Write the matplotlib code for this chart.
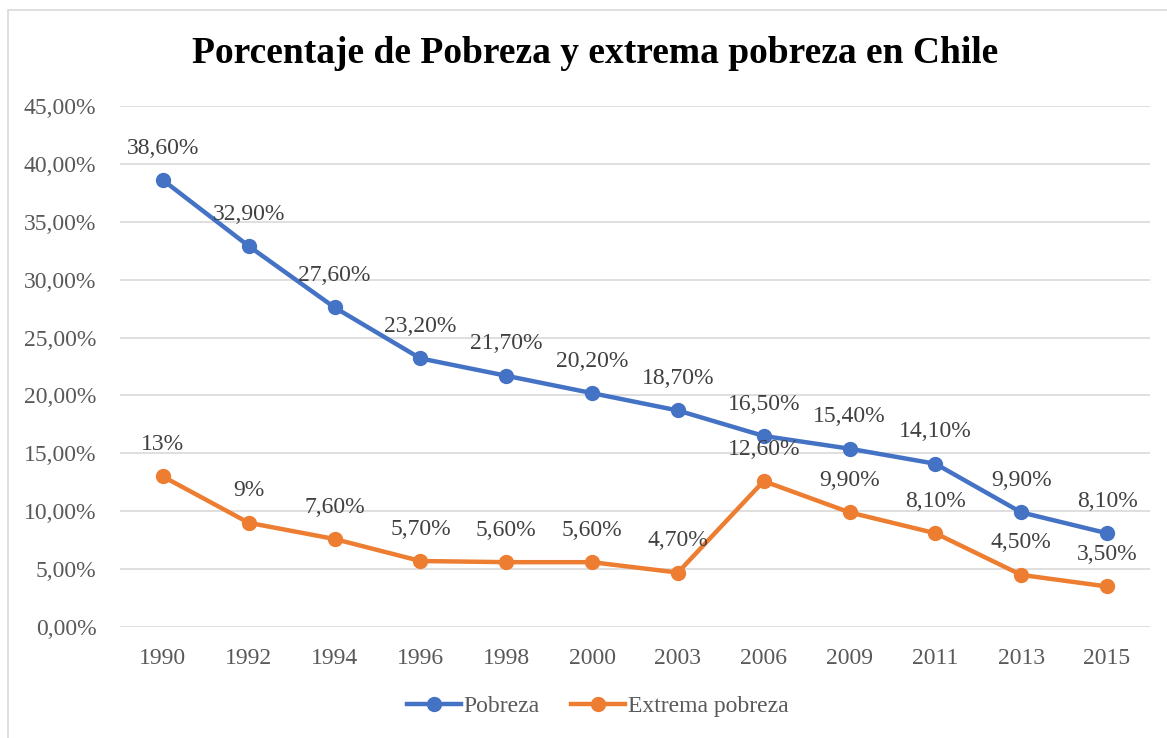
import matplotlib.pyplot as plt
from matplotlib.patches import Rectangle
from matplotlib.ticker import FuncFormatter

plt.rcParams['font.family'] = ['Liberation Serif', 'DejaVu Serif']

anios = ['1990', '1992', '1994', '1996', '1998', '2000', '2003', '2006', '2009', '2011', '2013', '2015']
pobreza = [38.6, 32.9, 27.6, 23.2, 21.7, 20.2, 18.7, 16.5, 15.4, 14.1, 9.9, 8.1]
extrema = [13, 9, 7.6, 5.7, 5.6, 5.6, 4.7, 12.6, 9.9, 8.1, 4.5, 3.5]

azul = '#4472C4'
naranja = '#ED7D31'
gris = '#595959'


def etiqueta(v):
    if float(v).is_integer():
        return f"{int(v)}%"
    return f"{v:.2f}%".replace('.', ',')


fig = plt.figure(figsize=(11.67, 7.38), dpi=100)
ax = fig.add_axes([0.1028, 0.1504, 0.8826, 0.706])

x = list(range(len(anios)))
ax.plot(x, pobreza, color=azul, lw=3.2, marker='o', ms=10, label='Pobreza', zorder=3)
ax.plot(x, extrema, color=naranja, lw=3.2, marker='o', ms=10, label='Extrema pobreza', zorder=3)

for serie in (pobreza, extrema):
    for i, v in zip(x, serie):
        ax.annotate(etiqueta(v), (i, v), xytext=(0, 23), textcoords='offset points',
                    ha='center', va='center', fontsize=17, color='#404040')

ax.set_xlim(-0.5, 11.5)
ax.set_ylim(0, 45)
ax.set_yticks(range(0, 46, 5))
ax.yaxis.set_major_formatter(FuncFormatter(lambda v, p: f"{v:.2f}%".replace('.', ',')))
ax.set_xticks(x)
ax.set_xticklabels(anios)
ax.tick_params(length=0, labelsize=17, labelcolor=gris, pad=15)
ax.tick_params(axis='y', pad=17)
ax.grid(axis='y', color='#d9d9d9', lw=1.2)
ax.set_axisbelow(True)
for s in ax.spines.values():
    s.set_visible(False)

fig.text(0.51, 0.928, 'Porcentaje de Pobreza y extrema pobreza en Chile',
         ha='center', va='center', fontsize=27, fontweight='bold')

fig.legend(loc='center', bbox_to_anchor=(0.512, 0.043), ncol=2, frameon=False,
           fontsize=17, labelcolor=gris, handlelength=2.3, handletextpad=0.1,
           columnspacing=1.35)

fig.patches.append(Rectangle((8 / 1167, -0.05), 1.1, 1 - 10 / 738 + 0.05,
                             transform=fig.transFigure, fill=False,
                             edgecolor='#d9d9d9', lw=1.2))

fig.savefig('out.png', dpi=100)
